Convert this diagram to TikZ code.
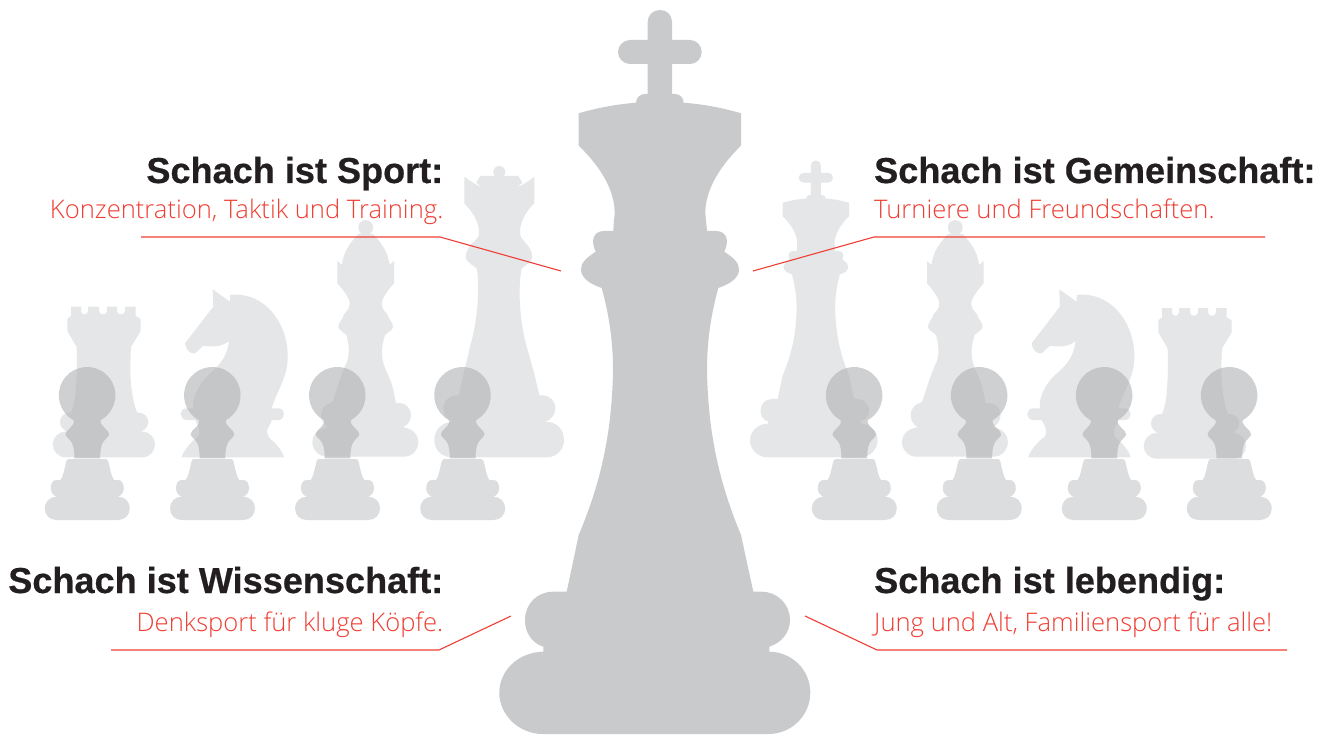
\documentclass[tikz,border=0pt]{standalone}
\usepackage{fontspec}
\setmainfont{Liberation Sans}
\newfontfamily\headf{Liberation Sans}[BoldFeatures={FakeBold=0.5}]
\newfontfamily\lightf{Open Sans Light}
\definecolor{kingc}{HTML}{C9CACC}
\definecolor{backc}{HTML}{E5E6E8}
\definecolor{pawnc}{HTML}{AEAFB1}
\definecolor{basec}{HTML}{DCDDDF}
\definecolor{redc}{HTML}{EF3E33}
\definecolor{headc}{HTML}{231F20}
\tikzset{
 headline/.style={text=headc,font=\headf\fontsize{36.1}{40}\selectfont\bfseries,inner sep=0pt},
 subline/.style={text=redc,font=\lightf\fontsize{25.6}{30}\selectfont,inner sep=0pt},
 leader/.style={draw=redc,line width=1.1pt},
 pawntop/.style={fill=pawnc,fill opacity=.58},
}
\newcommand{\kingshape}[4]{% colour, dx, dy, scale
\begin{scope}[shift={(#2,#3)},scale=#4]
\fill[#1] (578.7,113.3) .. controls (600,107) and (620,104) .. (636,102.7) -- (683.7,102.7) .. controls (700,104) and (720,107) .. (741,113.3)
 -- (741,145.7) .. controls (718,168) and (702,195) .. (706,220) -- (707,231)
 -- (716,231) .. controls (726,231) and (730,240) .. (724.3,251.7)
 .. controls (734,258) and (739,263) .. (739,269.3) .. controls (739,278) and (730,284) .. (718.3,288)
 .. controls (711,315) and (707,340) .. (707,370) .. controls (708,430) and (718,480) .. (741,535)
 -- (753.3,591.7) -- (761.7,591.7) .. controls (777,591.7) and (790,604) .. (790,620) .. controls (790,633) and (781,643) .. (769.3,646.7)
 -- (769.3,651.7) .. controls (792,652) and (810.3,670) .. (810.3,692.7) .. controls (810.3,715) and (792,734) .. (768.3,734)
 -- (542.7,734) .. controls (519,734) and (499.3,715) .. (499.3,692.7) .. controls (499.3,670) and (519,652) .. (543.3,651.7)
 -- (543.3,646.7) .. controls (532,643) and (525,633) .. (525,620) .. controls (525,604) and (537,591.7) .. (553.3,591.7)
 -- (566.7,591.7) -- (578.7,535) .. controls (602,480) and (612,430) .. (613,370) .. controls (613,340) and (609,315) .. (601.7,288)
 .. controls (590,284) and (581,278) .. (581,269.3) .. controls (581,263) and (586,258) .. (595.7,251.7)
 .. controls (590,240) and (594,231) .. (604,231) -- (613.3,231) -- (614,220) .. controls (618,195) and (602,168) .. (578.7,145.7) -- cycle;
% collar under the cross
\fill[#1] (636,104) -- (636,103) .. controls (636,98) and (640,94) .. (645,94) -- (675,94) .. controls (680,94) and (683.7,98) .. (683.7,103) -- (683.7,104) -- cycle;
% cross
\fill[#1] (647.7,95) -- (647.7,22) .. controls (647.7,15) and (653,10) .. (660,10) .. controls (667,10) and (672,15) .. (672,22) -- (672,95) -- cycle;
\fill[#1] (630,40) -- (690,40) .. controls (696.5,40) and (701.7,45.5) .. (701.7,52) .. controls (701.7,58.5) and (696.5,64) .. (690,64) -- (630,64) .. controls (623.5,64) and (618,58.5) .. (618,52) .. controls (618,45.5) and (623.5,40) .. (630,40) -- cycle;
\end{scope}}
\newcommand{\queenshape}{%
\fill[backc] (499.3,172) circle[radius=6];
\fill[backc] (480.3,176) -- (518.3,176) -- (522.3,182.7) -- (516.7,187.3) .. controls (523,185) and (529,181) .. (534.3,176.7) -- (534.3,203.3)
 .. controls (527,210) and (520,221) .. (520,231.7) .. controls (520,236) and (521,238) .. (523,240) .. controls (528,245) and (532.3,251) .. (532.3,256.7)
 .. controls (532.3,261) and (526,265) .. (521.7,268.3) .. controls (518,285) and (519,320) .. (526.7,346.7) .. controls (532,365) and (536,380) .. (539.3,395.3)
 -- (542,395.3) .. controls (550,395.3) and (555.3,401) .. (555.3,408.3) .. controls (555.3,415) and (551,420) .. (545,421.7) -- (547,422)
 .. controls (557,422) and (564,430) .. (564,440) .. controls (564,450) and (556,457.3) .. (546.7,457.3) -- (452,457.3)
 .. controls (442,457.3) and (434.3,450) .. (434.3,440) .. controls (434.3,430) and (442,422) .. (452,422) -- (453,421.7)
 .. controls (447,420) and (443.3,415) .. (443.3,408.3) .. controls (443.3,401) and (449,395.3) .. (457,395.3) -- (458.7,395.3)
 .. controls (462,380) and (466,365) .. (470,346.7) .. controls (478,320) and (480,285) .. (476.7,268.3)
 .. controls (472,265) and (465.7,261) .. (465.7,256.7) .. controls (465.7,251) and (470,245) .. (475.5,240) .. controls (478,238) and (479,236) .. (479,231.7)
 .. controls (479,221) and (471,210) .. (464.3,203.3) -- (464.3,176.7) .. controls (470,181) and (476,185) .. (482,187.3) -- (476.3,182.7) -- cycle;}
\newcommand{\bishopshape}[1]{%
\begin{scope}[shift={(#1,0)}]
\fill[backc] (365.7,227.5) circle[radius=7.4];
\fill[backc] (373,234) .. controls (381.5,243) and (388,252) .. (389.5,265) -- (394,261) -- (394,283.3)
 .. controls (388,290) and (382,298) .. (381.7,303) .. controls (381.6,307) and (383,310) .. (387.3,314) .. controls (388,319) and (393,322) .. (393,326.7)
 .. controls (393,330) and (388,332) .. (385,335) .. controls (382,345) and (381,352) .. (382.7,360) .. controls (385,372) and (391,378) .. (393.3,390)
 -- (396,403) -- (400,403) .. controls (406,403) and (411,409) .. (411,415) .. controls (411,420) and (408,425) .. (403,427)
 -- (406,428) .. controls (413,429) and (418.3,435) .. (418.3,442) .. controls (418.3,450) and (412,456.7) .. (404,456.7) -- (327,456.7)
 .. controls (319,456.7) and (312.3,450) .. (312.3,442) .. controls (312.3,435) and (318,429) .. (325,428) -- (328,427)
 .. controls (324,425) and (321,420) .. (321,415) .. controls (321,409) and (326,403) .. (331,403) -- (333.3,400)
 .. controls (338,385) and (342,372) .. (347,362) .. controls (350,352) and (349,345) .. (346.4,335) .. controls (343.4,332) and (338.4,330) .. (338.4,326.7)
 .. controls (338.4,322) and (343.4,319) .. (344.1,314) .. controls (348.4,310) and (349.8,307) .. (349.7,303) .. controls (349.4,298) and (343.4,290) .. (337.4,283.3)
 -- (337.4,261) -- (341.9,265) .. controls (343.4,252) and (349.9,243) .. (358.4,234) -- cycle;
\end{scope}}
\newcommand{\rookshape}[2]{%
\begin{scope}[shift={(#1,#2)}]
\fill[backc] (71,306.7) -- (81,306.7) -- (81,311) .. controls (81,315.5) and (88,315.5) .. (88,311) -- (88,306.7) -- (99,306.7) -- (99,311)
 .. controls (99,315.5) and (107,315.5) .. (107,311) -- (107,306.7) -- (117,306.7) -- (117,311) .. controls (117,315.5) and (125,315.5) .. (125,311) -- (125,306.7)
 -- (135.7,306.7) -- (135.7,316) -- (140.7,319) -- (140.7,331) -- (131,347) .. controls (130,365) and (130,378) .. (131.7,390)
 .. controls (133,400) and (135,408) .. (137.3,412.7) -- (139,412.7) .. controls (144,412.7) and (148.3,417) .. (148.3,422) .. controls (148.3,426) and (145,430) .. (141,431.5)
 -- (143,431.5) .. controls (150,432) and (155,438) .. (155,444.5) .. controls (155,451) and (150,457.3) .. (142,457.3) -- (66,457.3)
 .. controls (58,457.3) and (52.7,451) .. (52.7,444.5) .. controls (52.7,438) and (58,432) .. (65,431.5) -- (67,431.5)
 .. controls (63,430) and (60,426) .. (60,422) .. controls (60,417) and (64,412.7) .. (69,412.7) -- (71,412.7)
 .. controls (74,405) and (75.5,398) .. (75.7,390) .. controls (77,378) and (77,365) .. (76.7,347) -- (67.3,331) -- (67.3,319) -- (71,316) -- cycle;
\end{scope}}
\newcommand{\knightshape}[1]{%
\begin{scope}[shift={(#1,0)}]
\fill[backc] (212.7,289.3) -- (230,301.7) -- (230,295) .. controls (262,291) and (287.7,320) .. (287.7,356.7) .. controls (287.7,378) and (277,390) .. (271.7,408.3)
 -- (278.3,408.3) .. controls (282,408.3) and (284,411) .. (284,414) .. controls (284,417) and (282,420) .. (278.3,420) -- (271.7,420)
 .. controls (270,427) and (266,428) .. (267.3,433.3) .. controls (268,439) and (273,440) .. (276.7,445) .. controls (280,449) and (283,453) .. (284,457.3)
 -- (181.7,457.3) .. controls (183,452) and (190,442) .. (198.3,436.7) .. controls (201,432) and (199,426) .. (195,420) -- (186.7,420)
 .. controls (183,420) and (180.7,417) .. (180.7,414) .. controls (180.7,411) and (183,408.3) .. (186.7,408.3) -- (193.3,408.3)
 .. controls (192,398) and (198,386) .. (206.7,376.7) .. controls (216,368) and (227,360) .. (229,341) .. controls (222,347) and (212,347) .. (203.3,345.7)
 -- (195,353.3) .. controls (190,354) and (186,350) .. (185,343.3) -- (213.3,306.7) -- cycle;
\end{scope}}
\newcommand{\pawnshape}[1]{%
\begin{scope}[shift={(#1-87.3,0)}]
\fill[pawntop] (73.3,420) arc[start angle=119.2,end angle=420.8,radius=28.3]
 .. controls (99.6,422) and (101.6,425) .. (104.6,428) .. controls (106.6,430) and (109.1,432) .. (109.1,434) .. controls (109.1,437) and (104.6,439) .. (102.6,443)
 .. controls (100.6,447) and (100.3,452) .. (100.1,458.3) -- (74.5,458.3) .. controls (74.3,452) and (74,447) .. (72,443)
 .. controls (70,439) and (65.5,437) .. (65.5,434) .. controls (65.5,432) and (68,430) .. (70,428) .. controls (73,425) and (75,422) .. (73.3,420) -- cycle;
\fill[basec] (69,459) -- (105.6,459) .. controls (107,459) and (107.8,460) .. (108.3,461.5) .. controls (110,468) and (111,476) .. (114,480) -- (118,480)
 .. controls (122,480) and (123.8,484) .. (123.8,488.3) .. controls (123.8,492) and (121.5,495.5) .. (118,496.7)
 .. controls (125,496.7) and (129.8,502) .. (129.8,508.3) .. controls (129.8,515) and (125,520) .. (118,520)
 -- (56.6,520) .. controls (49.6,520) and (44.8,515) .. (44.8,508.3) .. controls (44.8,502) and (49.6,496.7) .. (56.6,496.7)
 .. controls (53.1,495.5) and (50.8,492) .. (50.8,488.3) .. controls (50.8,484) and (52.6,480) .. (56.6,480) -- (60.6,480)
 .. controls (63.6,476) and (64.6,468) .. (66.3,461.5) .. controls (66.8,460) and (67.6,459) .. (69,459) -- cycle;
\end{scope}}
\begin{document}
\begin{tikzpicture}[x=1pt,y=-1pt]
\useasboundingbox (0,0) rectangle (1334,735);
\fill[white] (0,0) rectangle (1334,735);
% back row
\rookshape{0}{0}
\knightshape{0}
\bishopshape{0}
\queenshape
\kingshape{backc}{545.3}{156.4}{.41}
\bishopshape{589.6}
\knightshape{846.6}
\rookshape{1091}{1.4}
% pawns
\foreach \px in {87.3,212.5,337.5,462.7,854.3,979.3,1104.3,1229.3}{\pawnshape{\px}}
% main king
\kingshape{kingc}{0}{0}{1}
% texts
\node[headline,anchor=base east] (t1) at (443.5,183) {Schach ist Sport:};
\node[subline,anchor=base east] (s1) at (443.5,219) {Konzentration, Taktik und Training.};
\node[headline,anchor=base west] (t2) at (874,183) {Schach ist Gemeinschaft:};
\node[subline,anchor=base west] (s2) at (874,219) {Turniere und Freundschaften.};
\node[headline,anchor=base east] (t3) at (443.5,593) {Schach ist Wissenschaft:};
\node[subline,anchor=base east] (s3) at (443.5,631) {Denksport für kluge Köpfe.};
\node[headline,anchor=base west] (t4) at (874,593) {Schach ist lebendig:};
\node[subline,anchor=base west] (s4) at (874,631) {Jung und Alt, Familiensport für alle!};
% leaders
\coordinate (a1) at (141,237); \coordinate (b1) at (440,237); \coordinate (c1) at (561,271);
\coordinate (a2) at (1265,237); \coordinate (b2) at (874,237); \coordinate (c2) at (753,271);
\coordinate (a3) at (111,650); \coordinate (b3) at (439,650); \coordinate (c3) at (511,616);
\coordinate (a4) at (1287,650); \coordinate (b4) at (877,650); \coordinate (c4) at (805,616);
\draw[leader] (a1) -- (b1) -- (c1);
\draw[leader] (a2) -- (b2) -- (c2);
\draw[leader] (a3) -- (b3) -- (c3);
\draw[leader] (a4) -- (b4) -- (c4);
\end{tikzpicture}
\end{document}
